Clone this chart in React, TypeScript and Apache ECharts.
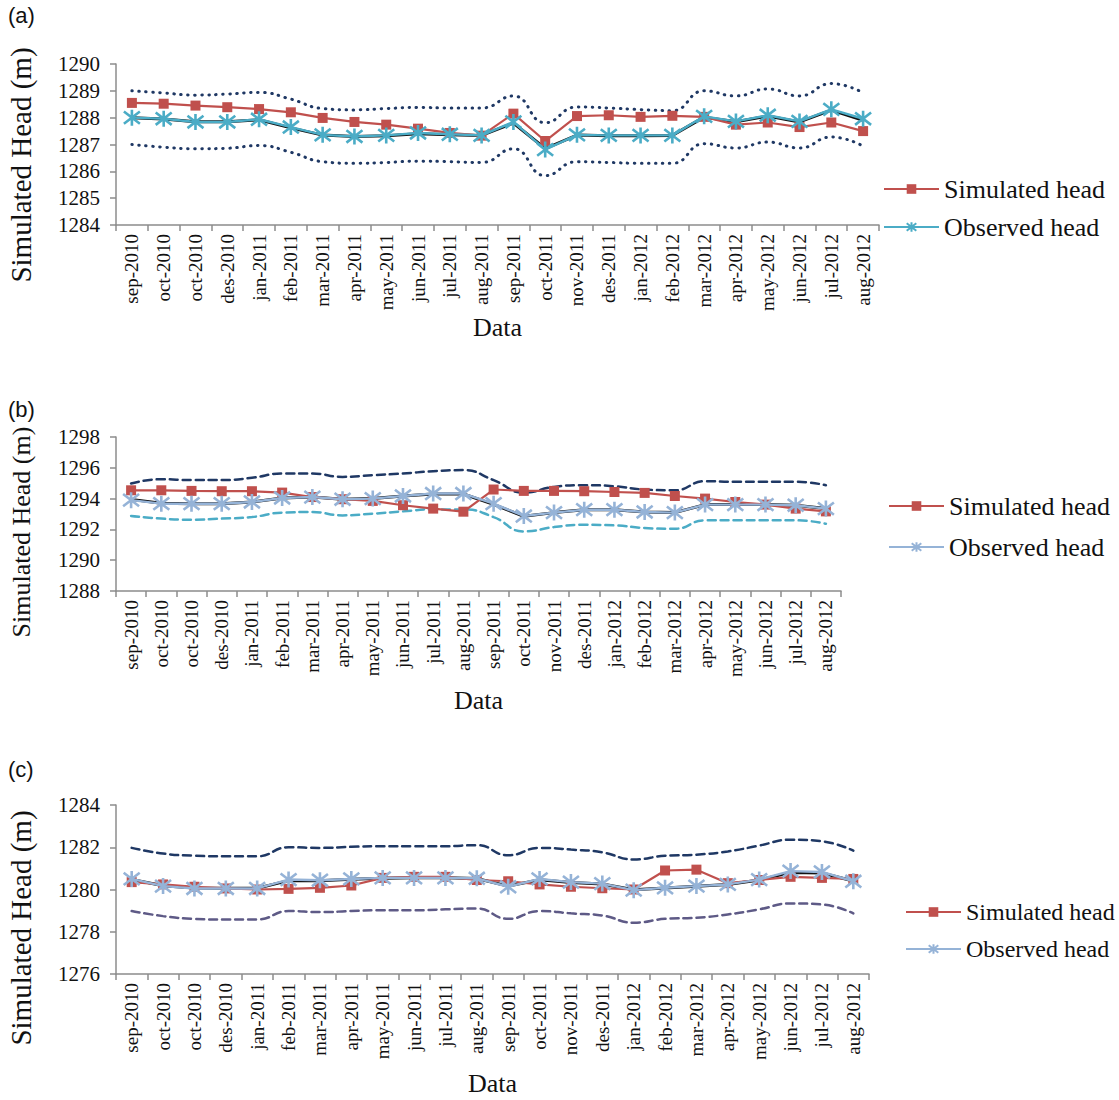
import React, { useEffect, useRef } from 'react';
import * as echarts from 'echarts';

const months = ['sep-2010', 'oct-2010', 'oct-2010', 'des-2010', 'jan-2011', 'feb-2011', 'mar-2011', 'apr-2011', 'may-2011', 'jun-2011', 'jul-2011', 'aug-2011', 'sep-2011', 'oct-2011', 'nov-2011', 'des-2011', 'jan-2012', 'feb-2012', 'mar-2012', 'apr-2012', 'may-2012', 'jun-2012', 'jul-2012', 'aug-2012'];

// Panel (a)
const aSim = [1288.55, 1288.52, 1288.45, 1288.39, 1288.32, 1288.2, 1287.99, 1287.84, 1287.74, 1287.59, 1287.43, 1287.33, 1288.15, 1287.13, 1288.06, 1288.09, 1288.03, 1288.07, 1288.03, 1287.74, 1287.82, 1287.65, 1287.82, 1287.5];
const aObs = [1288.0, 1287.96, 1287.84, 1287.84, 1287.94, 1287.65, 1287.36, 1287.3, 1287.34, 1287.43, 1287.38, 1287.34, 1287.84, 1286.81, 1287.36, 1287.34, 1287.34, 1287.34, 1288.05, 1287.86, 1288.09, 1287.86, 1288.31, 1287.96];
const aMean = [1288.0, 1287.95, 1287.85, 1287.85, 1287.92, 1287.62, 1287.35, 1287.3, 1287.33, 1287.4, 1287.36, 1287.34, 1287.8, 1286.85, 1287.35, 1287.33, 1287.33, 1287.34, 1288.02, 1287.85, 1288.06, 1287.84, 1288.28, 1287.9];
const aUpper = [1289.0, 1288.92, 1288.84, 1288.88, 1288.94, 1288.69, 1288.34, 1288.29, 1288.34, 1288.38, 1288.36, 1288.36, 1288.81, 1287.81, 1288.4, 1288.36, 1288.3, 1288.26, 1289.0, 1288.81, 1289.07, 1288.81, 1289.27, 1288.93];
const aLower = [1287.0, 1286.9, 1286.84, 1286.86, 1286.96, 1286.71, 1286.36, 1286.3, 1286.33, 1286.38, 1286.36, 1286.33, 1286.84, 1285.84, 1286.36, 1286.33, 1286.3, 1286.3, 1287.03, 1286.87, 1287.09, 1286.87, 1287.28, 1286.94];

// Panel (b)
const bSim = [1294.54, 1294.54, 1294.5, 1294.48, 1294.48, 1294.39, 1294.1, 1293.96, 1293.85, 1293.57, 1293.35, 1293.15, 1294.59, 1294.5, 1294.5, 1294.48, 1294.43, 1294.37, 1294.17, 1294.0, 1293.78, 1293.61, 1293.35, 1293.17];
const bObs = [1293.9, 1293.67, 1293.67, 1293.67, 1293.78, 1294.04, 1294.1, 1293.96, 1294.0, 1294.17, 1294.33, 1294.33, 1293.67, 1292.87, 1293.09, 1293.28, 1293.28, 1293.13, 1293.09, 1293.61, 1293.61, 1293.61, 1293.57, 1293.35];
const bMean = [1293.95, 1293.7, 1293.67, 1293.67, 1293.78, 1294.04, 1294.1, 1293.96, 1294.0, 1294.17, 1294.3, 1294.3, 1293.62, 1292.85, 1293.09, 1293.28, 1293.28, 1293.13, 1293.09, 1293.61, 1293.61, 1293.61, 1293.57, 1293.35];
const bUpper = [1294.98, 1295.26, 1295.2, 1295.2, 1295.35, 1295.63, 1295.63, 1295.41, 1295.52, 1295.63, 1295.78, 1295.85, 1295.2, 1294.39, 1294.76, 1294.87, 1294.8, 1294.59, 1294.54, 1295.13, 1295.09, 1295.09, 1295.09, 1294.87];
const bLower = [1292.87, 1292.7, 1292.63, 1292.7, 1292.8, 1293.09, 1293.13, 1292.91, 1293.02, 1293.17, 1293.3, 1293.3, 1292.8, 1291.87, 1292.15, 1292.3, 1292.26, 1292.09, 1292.04, 1292.59, 1292.59, 1292.59, 1292.59, 1292.37];

// Panel (c)
const cSim = [1280.35, 1280.24, 1280.13, 1280.05, 1280.0, 1280.03, 1280.08, 1280.19, 1280.55, 1280.6, 1280.6, 1280.45, 1280.39, 1280.24, 1280.13, 1280.06, 1280.0, 1280.9, 1280.94, 1280.3, 1280.45, 1280.6, 1280.55, 1280.5];
const cObs = [1280.5, 1280.16, 1280.05, 1280.05, 1280.05, 1280.47, 1280.44, 1280.5, 1280.55, 1280.55, 1280.55, 1280.53, 1280.13, 1280.5, 1280.35, 1280.28, 1279.97, 1280.08, 1280.16, 1280.24, 1280.47, 1280.87, 1280.83, 1280.39];
const cMean = [1280.48, 1280.18, 1280.07, 1280.06, 1280.06, 1280.42, 1280.42, 1280.48, 1280.53, 1280.56, 1280.56, 1280.52, 1280.16, 1280.46, 1280.33, 1280.26, 1279.99, 1280.07, 1280.15, 1280.24, 1280.45, 1280.8, 1280.78, 1280.4];
const cUpper = [1281.97, 1281.7, 1281.6, 1281.57, 1281.57, 1282.0, 1281.97, 1282.02, 1282.05, 1282.05, 1282.05, 1282.1, 1281.62, 1281.97, 1281.89, 1281.76, 1281.42, 1281.6, 1281.65, 1281.8, 1282.08, 1282.36, 1282.28, 1281.84];
const cLower = [1278.98, 1278.74, 1278.61, 1278.58, 1278.58, 1278.98, 1278.93, 1278.98, 1279.02, 1279.02, 1279.06, 1279.1, 1278.61, 1278.98, 1278.87, 1278.77, 1278.43, 1278.61, 1278.66, 1278.82, 1279.06, 1279.34, 1279.29, 1278.87];

const yRanges = [
  { min: 1284, max: 1290, interval: 1 },
  { min: 1288, max: 1298, interval: 2 },
  { min: 1276, max: 1284, interval: 2 },
];

const panelLabels = ['(a)', '(b)', '(c)'];
const yTitle = 'Simulated Head (m)';
const xTitle = 'Data';

const SERIF = 'Liberation Serif';
const RED = '#C0504D';
const CYAN = '#4BACC6';
const LIGHTBLUE = '#95B3D7';
const NAVY = '#1F3864';
const ASTERISK = 'path://M0,0L10,10M0,10L10,0M5,-1.5L5,11.5';

const legendNames: Record<string, string> = {
  simA: 'Simulated head', obsA: 'Observed head',
  simB: 'Simulated head', obsB: 'Observed head',
  simC: 'Simulated head', obsC: 'Observed head',
};

export default function App() {
  const ref = useRef<HTMLDivElement>(null);
  useEffect(() => {
    if (!ref.current) return;
    const chart = echarts.init(ref.current, undefined, { renderer: 'svg' });

    const grids = [
      { left: 116, top: 64, width: 763, height: 161 },
      { left: 116, top: 437, width: 725, height: 154 },
      { left: 116, top: 805, width: 753, height: 169 },
    ];
    const xNameGaps = [84, 96, 96];
    const yName = [
      { x: 21, y: 165, size: 29 },
      { x: 21, y: 532, size: 26 },
      { x: 21, y: 928, size: 29 },
    ];
    const labelTops = [4, 398, 758];

    const xAxes = grids.map((_, i) => ({
      gridIndex: i,
      type: 'category',
      data: months,
      boundaryGap: true,
      axisLine: { lineStyle: { color: '#8c8c8c', width: 1.5 } },
      axisTick: { show: true, length: 6, lineStyle: { color: '#8c8c8c', width: 1.5 } },
      axisLabel: { rotate: 90, interval: 0, fontFamily: SERIF, fontSize: 19, color: '#111', margin: 9 },
      name: xTitle,
      nameLocation: 'middle',
      nameGap: xNameGaps[i],
      nameTextStyle: { fontFamily: SERIF, fontSize: 26, color: '#111' },
    }));

    const yAxes = grids.map((_, i) => ({
      gridIndex: i,
      type: 'value',
      min: yRanges[i].min,
      max: yRanges[i].max,
      interval: yRanges[i].interval,
      axisLine: { show: true, lineStyle: { color: '#8c8c8c', width: 1.5 } },
      axisTick: { show: true, length: 6, lineStyle: { color: '#8c8c8c', width: 1.5 } },
      splitLine: { show: false },
      axisLabel: { fontFamily: SERIF, fontSize: 21, color: '#111', margin: 16, formatter: (v: number) => String(v) },
    }));

    const band = (name: string, idx: number, data: number[], color: string, type: any, width: number) => ({
      name, type: 'line', xAxisIndex: idx, yAxisIndex: idx, data,
      smooth: 0.5, showSymbol: false, symbol: 'none', silent: true,
      lineStyle: { color, type, width, cap: 'round' },
      z: 1,
    });
    const mean = (name: string, idx: number, data: number[]) => ({
      name, type: 'line', xAxisIndex: idx, yAxisIndex: idx, data,
      showSymbol: false, symbol: 'none', silent: true,
      lineStyle: { color: '#111', width: 3 },
      z: 2,
    });
    const sim = (name: string, idx: number, data: number[]) => ({
      name, type: 'line', xAxisIndex: idx, yAxisIndex: idx, data,
      symbol: 'rect', symbolSize: 10,
      itemStyle: { color: RED },
      lineStyle: { color: RED, width: 2.2 },
      z: 3,
    });
    const obs = (name: string, idx: number, data: number[], color: string) => ({
      name, type: 'line', xAxisIndex: idx, yAxisIndex: idx, data,
      symbol: ASTERISK, symbolSize: 16,
      itemStyle: { color, borderColor: color, borderWidth: 2.6 },
      lineStyle: { color, width: 2.4 },
      z: 4,
    });

    const legend = (left: number, top: number, gap: number, size: number, names: string[]) => ({
      orient: 'vertical',
      left, top,
      padding: 0,
      itemWidth: 55,
      itemHeight: 12,
      itemGap: gap,
      selectedMode: false,
      data: names,
      formatter: (n: string) => legendNames[n] || n,
      textStyle: { fontFamily: SERIF, fontSize: size, color: '#111' },
    });

    const graphic: any[] = [];
    panelLabels.forEach((t, i) => {
      graphic.push({ type: 'text', left: 8, top: labelTops[i], style: { text: t, font: '22px Liberation Sans', fill: '#111' } });
    });
    yName.forEach((n) => {
      graphic.push({
        type: 'text', x: n.x, y: n.y, rotation: Math.PI / 2,
        style: { text: yTitle, font: `${n.size}px Liberation Serif`, fill: '#111', align: 'center', verticalAlign: 'middle' },
      });
    });

    const option: any = {
      animation: false,
      backgroundColor: '#ffffff',
      grid: grids,
      xAxis: xAxes,
      yAxis: yAxes,
      legend: [
        legend(883, 176, 12, 26, ['simA', 'obsA']),
        legend(888, 493, 15, 26, ['simB', 'obsB']),
        legend(905, 900, 13, 24, ['simC', 'obsC']),
      ],
      graphic,
      series: [
        band('aUpper', 0, aUpper, NAVY, [0.5, 6.5], 3),
        band('aLower', 0, aLower, NAVY, [0.5, 6.5], 3),
        mean('aMean', 0, aMean),
        sim('simA', 0, aSim),
        obs('obsA', 0, aObs, CYAN),

        band('bUpper', 1, bUpper, NAVY, [8, 5], 2.5),
        band('bLower', 1, bLower, '#4BACC6', [8, 5], 2.5),
        mean('bMean', 1, bMean),
        sim('simB', 1, bSim),
        obs('obsB', 1, bObs, LIGHTBLUE),

        band('cUpper', 2, cUpper, NAVY, [8, 5], 2.5),
        band('cLower', 2, cLower, '#5E5A86', [8, 5], 2.5),
        mean('cMean', 2, cMean),
        sim('simC', 2, cSim),
        obs('obsC', 2, cObs, LIGHTBLUE),
      ],
    };
    chart.setOption(option);
    return () => chart.dispose();
  }, []);

  return (
    <div
      ref={ref}
      style={{ position: 'absolute', left: 0, top: 0, width: 1119, height: 1100, background: '#fff' }}
    />
  );
}
